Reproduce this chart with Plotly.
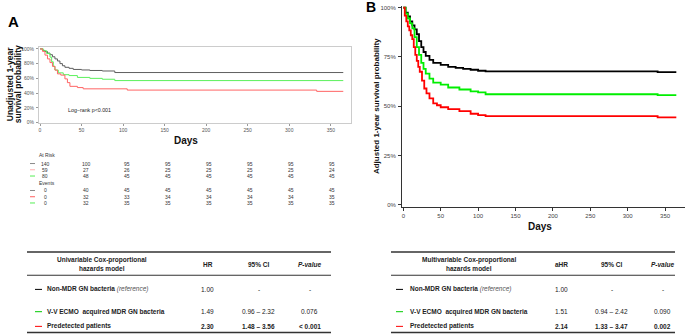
import plotly.graph_objects as go

W, H = 685, 336
FONT = "Liberation Sans, Arial, sans-serif"

# ---------------- data ----------------
# Panel A (unadjusted Kaplan-Meier), days / survival %
a_gray_t = [0, 3, 6, 9, 12, 15, 18, 21, 24, 27, 30, 35, 40, 50, 60, 75, 90, 365]
a_gray_s = [100, 97.9, 96.4, 94.3, 92.1, 89.3, 86.4, 83.6, 80.0, 77.1, 75.0, 73.6, 72.1, 71.4, 70.7, 70.0, 67.9, 67.9]
a_green_t = [0, 4, 8, 12, 14, 16, 18, 22, 28, 35, 45, 60, 75, 90, 365]
a_green_s = [100, 97.5, 93.8, 88.8, 82.5, 76.3, 71.3, 67.5, 65.0, 63.8, 61.3, 60.0, 58.8, 57.0, 57.0]
a_red_t = [0, 3, 6, 9, 12, 15, 18, 21, 25, 30, 33, 36, 45, 52, 105, 333, 365]
a_red_s = [100, 96.6, 91.5, 86.4, 81.4, 76.3, 71.2, 66.1, 64.4, 59.3, 54.2, 49.2, 47.5, 45.8, 44.1, 42.4, 42.4]

# Panel B (adjusted survival)
b_black_t = [0, 3, 6, 9, 12, 15, 18, 21, 24, 27, 30, 35, 40, 50, 60, 70, 80, 90, 100, 110, 340, 365]
b_black_s = [100, 97.5, 95.5, 93, 91, 89, 86.5, 83, 80, 77.5, 75.5, 73.5, 72, 71, 70, 69.5, 69, 68.5, 68, 67.7, 67.3, 67.3]
b_green_t = [0, 3, 6, 9, 12, 15, 18, 21, 24, 27, 30, 35, 40, 50, 60, 75, 90, 100, 110, 340, 365]
b_green_s = [100, 97, 94.5, 92, 89.5, 85, 80, 76, 72, 69, 66.5, 64, 62, 61, 59.5, 58.5, 57.5, 57, 56.1, 55.6, 55.6]
b_red_t = [0, 2, 4, 6, 8, 10, 12, 14, 16, 18, 20, 22, 25, 28, 31, 35, 40, 45, 50, 60, 75, 90, 100, 110, 340, 365]
b_red_s = [100, 96, 93, 90.5, 88.5, 86, 84, 80, 76, 73, 70, 67.5, 63, 59, 56.5, 54, 51.5, 50.5, 49.5, 48.5, 47.5, 46.2, 45.5, 45, 44.4, 44.4]

# Axis ticks
day_ticks = [0, 50, 100, 150, 200, 250, 300, 350]
a_yticks = [0, 20, 40, 60, 80, 100]
b_yticks = [0, 25, 50, 75, 100]

# Risk table (panel A)
risk_days = [0, 50, 100, 150, 200, 250, 300, 350]
at_risk_gray = [140, 100, 95, 95, 95, 95, 95, 95]
at_risk_red = [59, 27, 26, 25, 25, 25, 25, 24]
at_risk_green = [80, 48, 45, 45, 45, 45, 45, 45]
events_gray = [0, 40, 45, 45, 45, 45, 45, 45]
events_red = [0, 32, 33, 34, 34, 34, 34, 35]
events_green = [0, 32, 35, 35, 35, 35, 35, 35]

# Cox tables
groups = ["Non-MDR GN bacteria", "V-V ECMO  acquired MDR GN bacteria", "Predetected patients"]
uni_hr = ["1.00", "1.49", "2.30"]
uni_ci = ["-", "0.96 – 2.32", "1.48 – 3.56"]
uni_p = ["-", "0.076", "< 0.001"]
multi_hr = ["1.00", "1.51", "2.14"]
multi_ci = ["-", "0.94 – 2.42", "1.33 – 3.47"]
multi_p = ["-", "0.090", "0.002"]

# ---------------- helpers ----------------
def px(x):
    return x / W

def py(y):
    return 1 - y / H

anns = []
shapes = []

def txt(x, y, s, size=6.5, color="#222222", xanchor="center", bold=False, italic=False, angle=0):
    if bold:
        s = "<b>" + s + "</b>"
    if italic:
        s = "<i>" + s + "</i>"
    anns.append(dict(x=px(x), y=py(y), xref="paper", yref="paper", text=s, showarrow=False,
                     xanchor=xanchor, yanchor="middle", textangle=angle,
                     font=dict(family=FONT, size=size, color=color)))

def hline(x0, x1, y, color="#333333", width=1.5):
    shapes.append(dict(type="line", xref="paper", yref="paper", x0=px(x0), x1=px(x1),
                       y0=py(y), y1=py(y), line=dict(color=color, width=width)))

fig = go.Figure()

# Panel A curves
A_COLORS = ["#5e5e5e", "#5cf05c", "#ff6464"]
for t, s, c in [(a_gray_t, a_gray_s, A_COLORS[0]), (a_green_t, a_green_s, A_COLORS[1]), (a_red_t, a_red_s, A_COLORS[2])]:
    fig.add_trace(go.Scatter(x=t, y=s, mode="lines", line=dict(color=c, width=1, shape="hv"),
                             xaxis="x", yaxis="y", showlegend=False, hoverinfo="skip"))

# Panel B curves
B_COLORS = ["#000000", "#00ee00", "#ff0000"]
for t, s, c in [(b_black_t, b_black_s, B_COLORS[0]), (b_green_t, b_green_s, B_COLORS[1]), (b_red_t, b_red_s, B_COLORS[2])]:
    fig.add_trace(go.Scatter(x=t, y=s, mode="lines", line=dict(color=c, width=1.8, shape="hv"),
                             xaxis="x2", yaxis="y2", showlegend=False, hoverinfo="skip"))

# Panel labels
txt(13.5, 21, "A", size=15, color="#000000", bold=True)
txt(371, 6, "B", size=14, color="#000000", bold=True)

# Panel A titles
txt(10, 84, "Unadjusted 1-year", size=8.5, color="#111111", bold=True, angle=-90)
txt(18, 84, "survival probability", size=8.5, color="#111111", bold=True, angle=-90)
txt(186, 140.7, "Days", size=10, color="#111111", bold=True)
txt(89.5, 110, "Log\u2212rank p<0.001", size=5.3, color="#222222")

# Panel B titles
txt(376, 106, "Adjusted 1-year survival probability", size=8, color="#111111", bold=True, angle=-90)
txt(540, 228, "Days", size=10, color="#111111", bold=True)

# Risk table
def colx(d):
    return 45 + d * (287 / 350)

txt(37, 155.7, "At Risk", size=5, color="#333333", xanchor="left")
txt(37, 183.3, "Events", size=5, color="#333333", xanchor="left")
risk_rows = [
    (at_risk_gray, 164.0, "#8a8a8a"),
    (at_risk_red, 170.3, "#ffb0b0"),
    (at_risk_green, 176.6, "#55ee55"),
    (events_gray, 191.2, "#8a8a8a"),
    (events_red, 197.5, "#ff6060"),
    (events_green, 203.8, "#55ee55"),
]
for vals, y, c in risk_rows:
    hline(30, 35, y, color=c, width=1)
    for d, v in zip(risk_days, vals):
        txt(colx(d), y, str(v), size=5, color="#333333")

# Cox tables
def cox_table(x0, x1, head_x, col_x, label_x, mark_x0, mark_x1, title1, hr_name, hrs, cis, ps):
    hline(x0, x1, 253.3, width=1.5)
    hline(x0, x1, 276.7, width=1.2)
    hline(x0, x1, 334.6, width=1.5)
    txt(head_x, 261.7, title1, bold=True)
    txt(head_x, 270.0, "hazards model", bold=True)
    txt(col_x[0], 266, hr_name, bold=True)
    txt(col_x[1], 266, "95% CI", bold=True)
    txt(col_x[2], 266, "P-value", bold=True, italic=True)
    rows_y = [291.0, 313.5, 328.3]
    marks = ["#000000", "#00cc00", "#ff0000"]
    for i, y in enumerate(rows_y):
        hline(mark_x0, mark_x1, y, color=marks[i], width=1)
        label = "<b>" + groups[i] + "</b>"
        if i == 0:
            label += " <i><span style='color:#555555'>(reference)</span></i>"
        anns.append(dict(x=px(label_x), y=py(y), xref="paper", yref="paper", text=label,
                         showarrow=False, xanchor="left", yanchor="middle",
                         font=dict(family=FONT, size=6.5, color="#222222")))
        b = (i == 2)
        txt(col_x[0], y, hrs[i], bold=b)
        txt(col_x[1], y, cis[i], bold=b)
        txt(col_x[2], y, ps[i], bold=b)

cox_table(27, 331, 102, [207.5, 258.5, 309.5], 45, 35, 42,
          "Univariable Cox-proportional", "HR", uni_hr, uni_ci, uni_p)
cox_table(391, 675, 468.5, [561, 611.7, 662.7], 408, 396, 403,
          "Multivariable Cox-proportional", "aHR", multi_hr, multi_ci, multi_p)

tickfontA = dict(family=FONT, size=5, color="#555555")
tickfontB = dict(family=FONT, size=6, color="#444444")

fig.update_layout(
    width=W, height=H,
    margin=dict(l=0, r=0, t=0, b=0),
    paper_bgcolor="white", plot_bgcolor="white",
    showlegend=False,
    annotations=anns, shapes=shapes,
    xaxis=dict(domain=[px(39), px(351)], range=[-1.2, 374.3], anchor="y",
               tickmode="array", tickvals=day_ticks, ticktext=[str(v) for v in day_ticks],
               ticks="outside", ticklen=2,
               tickcolor="#999999", tickfont=tickfontA, showline=True, mirror=True,
               linecolor="#cccccc", linewidth=1, showgrid=False, zeroline=False, ticklabelstandoff=0),
    yaxis=dict(domain=[py(123), py(46)], range=[-0.4, 103.1], anchor="x",
               tickmode="array", tickvals=a_yticks, ticktext=[f"{v}%" for v in a_yticks],
               ticks="outside", ticklen=2,
               tickcolor="#999999", tickfont=tickfontA, showline=True, mirror=True,
               linecolor="#cccccc", linewidth=1, showgrid=False, zeroline=False, ticklabelstandoff=1),
    xaxis2=dict(domain=[px(402), 1.0], range=[-1.74, 376.6], anchor="y2",
                tickmode="array", tickvals=day_ticks, ticktext=[str(v) for v in day_ticks],
                ticks="outside", ticklen=3,
                tickcolor="#333333", tickfont=tickfontB, showline=True, linecolor="#333333",
                linewidth=1, showgrid=False, zeroline=False, ticklabelstandoff=0),
    yaxis2=dict(domain=[py(207.7), py(5)], range=[-1.0, 100.85], anchor="x2",
                tickmode="array", tickvals=b_yticks, ticktext=[f"{v}%" for v in b_yticks],
                ticks="outside", ticklen=3,
                tickcolor="#333333", tickfont=tickfontB, showline=True, linecolor="#333333",
                linewidth=1, showgrid=False, zeroline=False, ticklabelstandoff=1),
)

fig.write_html("out.html",
               config={"displayModeBar": False, "staticPlot": True},
               post_script="document.body.style.margin='0px';document.body.style.padding='0px';document.documentElement.style.overflow='hidden';")
